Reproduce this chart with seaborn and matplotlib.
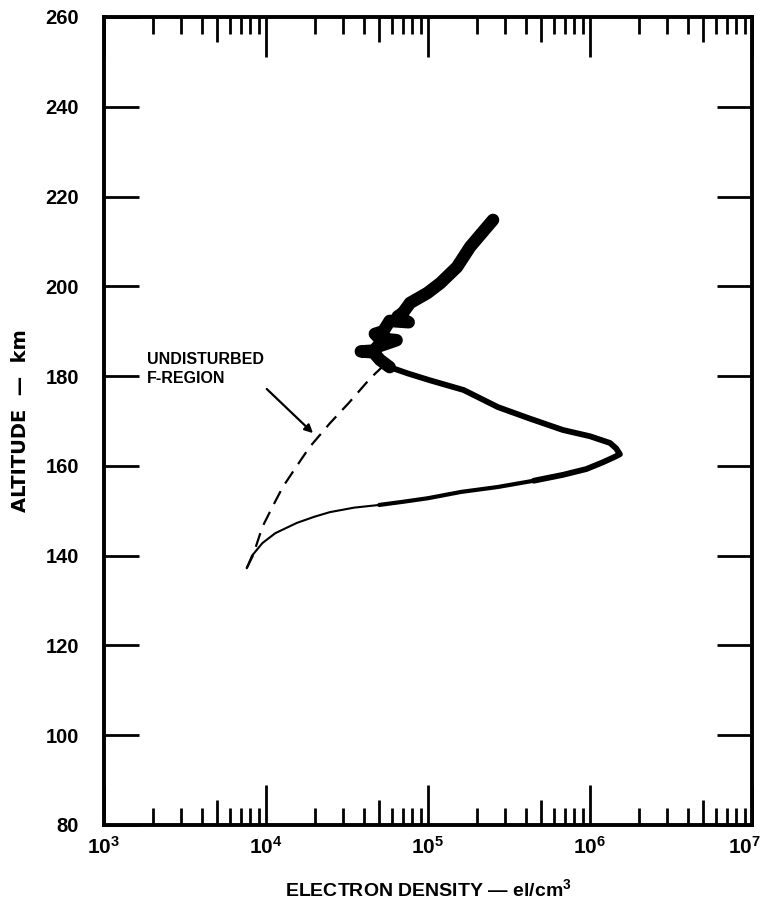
import numpy as np
import pandas as pd
import seaborn as sns
import matplotlib
matplotlib.use("Agg")
import matplotlib.pyplot as plt
import matplotlib.transforms as mtransforms
from matplotlib.ticker import FixedLocator, FuncFormatter, NullFormatter

# ---- data (electron density el/cm^3, altitude km) ----
lower_density = [7.6e3, 8.2e3, 9.5e3, 1.14e4, 1.55e4, 2.0e4, 2.48e4, 3.5e4, 5.0e4]
lower_altitude = [137.2, 140.0, 142.8, 145.0, 147.3, 148.7, 149.7, 150.7, 151.3]

rise_density = [5.0e4, 7.0e4, 1.0e5, 1.6e5, 2.7e5, 4.5e5]
rise_altitude = [151.3, 152.0, 152.8, 154.2, 155.3, 156.7]

peak_density = [4.5e5, 6.8e5, 9.5e5, 1.2e6, 1.4e6, 1.53e6, 1.45e6, 1.33e6,
                1.0e6, 6.8e5, 4.2e5, 2.7e5, 1.66e5, 1.02e5, 7.5e4, 5.8e4]
peak_altitude = [156.7, 158.0, 159.3, 160.8, 161.9, 162.6, 163.9, 165.1,
                 166.6, 168.0, 170.6, 173.1, 176.9, 179.1, 180.6, 182.0]

upper_density = [5.8e4, 5.06e4, 4.6e4, 3.85e4, 4.7e4, 4.84e4, 6.4e4, 5.0e4,
                 4.7e4, 5.3e4, 5.8e4, 7.6e4, 6.5e4, 7.0e4, 7.75e4, 9.9e4,
                 1.19e5, 1.51e5, 1.82e5, 2.52e5]
upper_altitude = [182.0, 183.6, 185.3, 185.5, 185.7, 186.5, 188.0, 188.4,
                  189.4, 190.0, 192.3, 192.0, 193.3, 194.1, 196.3, 198.5,
                  200.7, 204.3, 208.8, 214.8]

undisturbed_density = [7.6e3, 8.3e3, 9.5e3, 1.1e4, 1.27e4, 1.55e4, 1.86e4,
                       2.48e4, 3.24e4, 4.4e4, 5.2e4]
undisturbed_altitude = [137.2, 140.0, 146.4, 151.0, 155.3, 160.0, 164.2,
                        169.5, 174.0, 179.5, 182.0]

y_ticks = [80, 100, 120, 140, 160, 180, 200, 220, 240, 260]
x_ticks = [1e3, 1e4, 1e5, 1e6, 1e7]
x_mid_ticks = [5e3, 5e4, 5e5, 5e6]

sns.set_theme(style="white")
plt.rcParams["font.family"] = ["Liberation Sans", "DejaVu Sans"]
plt.rcParams["font.weight"] = "bold"
plt.rcParams["text.color"] = "black"
plt.rcParams["axes.labelcolor"] = "black"
plt.rcParams["xtick.color"] = "black"
plt.rcParams["ytick.color"] = "black"
plt.rcParams["mathtext.fontset"] = "custom"
plt.rcParams["mathtext.rm"] = "Liberation Sans:bold"
plt.rcParams["mathtext.bf"] = "Liberation Sans:bold"
plt.rcParams["mathtext.it"] = "Liberation Sans:bold"

fig = plt.figure(figsize=(7.63, 9.06), dpi=100)
ax = fig.add_axes([104 / 763, 81 / 906, 648 / 763, 808 / 906])

lower = pd.DataFrame({"d": lower_density, "a": lower_altitude})
rise = pd.DataFrame({"d": rise_density, "a": rise_altitude})
peak = pd.DataFrame({"d": peak_density, "a": peak_altitude})
upper = pd.DataFrame({"d": upper_density, "a": upper_altitude})
undist = pd.DataFrame({"d": undisturbed_density, "a": undisturbed_altitude})

sns.lineplot(data=lower, x="d", y="a", sort=False, estimator=None, ax=ax,
             color="black", linewidth=1.5)
sns.lineplot(data=rise, x="d", y="a", sort=False, estimator=None, ax=ax,
             color="black", linewidth=3.0, solid_joinstyle="round",
             solid_capstyle="round")
sns.lineplot(data=peak, x="d", y="a", sort=False, estimator=None, ax=ax,
             color="black", linewidth=4.2, solid_joinstyle="round",
             solid_capstyle="round")
sns.lineplot(data=upper, x="d", y="a", sort=False, estimator=None, ax=ax,
             color="black", linewidth=9, solid_capstyle="round",
             solid_joinstyle="round")
ax.plot(undist["d"], undist["a"], color="black", linewidth=1.6,
        dashes=(6.5, 4))

ax.set_xscale("log")
ax.set_xlim(1e3, 1e7)
ax.set_ylim(80, 260)

# ticks
ax.xaxis.set_major_locator(FixedLocator(x_ticks))
minor = [m * 10 ** e for e in range(3, 7) for m in (2, 3, 4, 6, 7, 8, 9)]
ax.xaxis.set_minor_locator(FixedLocator(minor))
ax.xaxis.set_minor_formatter(NullFormatter())
ax.xaxis.set_major_formatter(FuncFormatter(
    lambda v, p: r"$\mathbf{10^{%d}}$" % int(round(np.log10(v)))))
ax.yaxis.set_major_locator(FixedLocator(y_ticks))
ax.yaxis.set_major_formatter(FuncFormatter(lambda v, p: "%d" % v))

ax.tick_params(axis="x", which="major", direction="in", length=29, width=2,
               top=True, bottom=True, labelsize=15, pad=8)
ax.tick_params(axis="x", which="minor", direction="in", length=12, width=2,
               top=True, bottom=True)
ax.tick_params(axis="y", which="major", direction="in", length=25, width=2,
               left=True, right=True, labelsize=14.5, pad=18)
for lab in ax.get_xticklabels() + ax.get_yticklabels():
    lab.set_fontweight("bold")

# mid-decade (5) ticks, slightly longer than the other minor ticks
for side in ("bottom", "top"):
    sec = ax.secondary_xaxis(side)
    sec.set_xticks(x_mid_ticks)
    sec.tick_params(axis="x", which="major", direction="in", length=18,
                    width=2, labelbottom=False, labeltop=False)
    sec.tick_params(axis="x", which="minor", length=0)
    sec.spines[side].set_visible(False)

for sp in ax.spines.values():
    sp.set_visible(True)
    sp.set_color("black")
    sp.set_linewidth(2.8)

ax.set_xlabel("ELECTRON DENSITY — el/cm$^{3}$", fontsize=14,
              fontweight="bold")
ax.xaxis.label.set_va("center")
ax.xaxis.set_label_coords(0.5, -(889 - 825) / 808)
ax.set_ylabel("ALTITUDE  —  km", fontsize=14, fontweight="bold",
              family=["DejaVu Sans"])
ax.yaxis.label.set_va("center")
ax.yaxis.set_label_coords(-(104 - 21) / 648, 0.5)

# shift the 10^7 label slightly left so it stays inside the figure
last_tick = ax.xaxis.get_major_ticks()[-1]
last_tick.label1.set_transform(
    last_tick.label1.get_transform()
    + mtransforms.ScaledTranslation(-8 / 100, 0, fig.dpi_scale_trans))

# annotation
ax.annotate("UNDISTURBED\nF-REGION", xy=(1.95e4, 167.3), xytext=(1.84e3, 181.6),
            fontsize=11.5, fontweight="bold", ha="left", va="center",
            linespacing=1.3,
            arrowprops=dict(arrowstyle="-|>", color="black", lw=1.6,
                            mutation_scale=12, shrinkA=0, shrinkB=0,
                            relpos=(0.92, 0.25)))

ax.grid(False)
fig.savefig("out.png", dpi=100, facecolor="white")
